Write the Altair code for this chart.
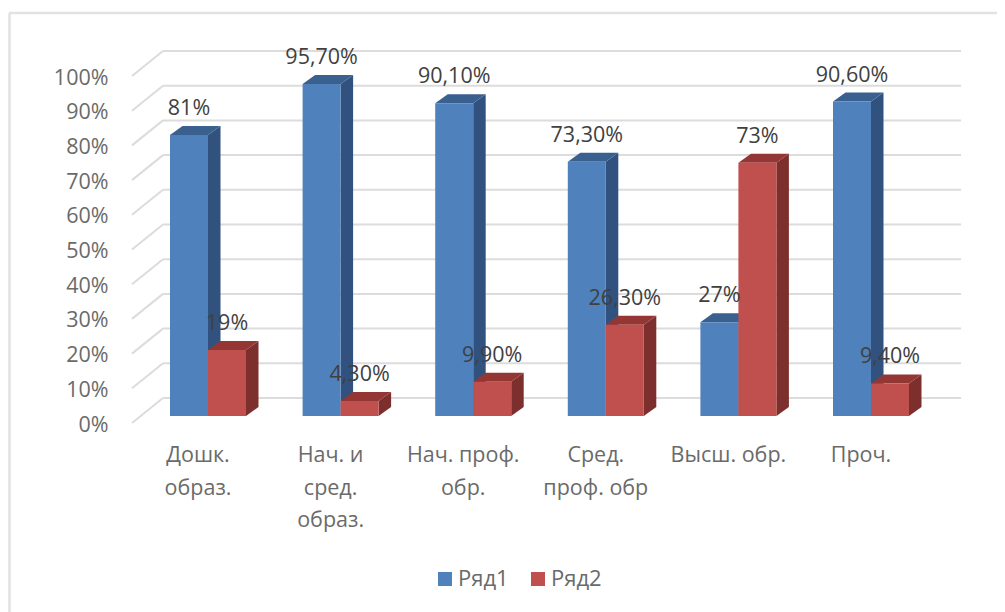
import altair as alt
import pandas as pd

categories = ["Дошк.\nобраз.", "Нач. и\nсред.\nобраз.", "Нач. проф.\nобр.",
              "Сред.\nпроф. обр", "Высш. обр.", "Проч."]
series1 = [81, 95.7, 90.1, 73.3, 27, 90.6]
series2 = [19, 4.3, 9.9, 26.3, 73, 9.4]
labels1 = ["81%", "95,70%", "90,10%", "73,30%", "27%", "90,60%"]
labels2 = ["19%", "4,30%", "9,90%", "26,30%", "73%", "9,40%"]
ticks = list(range(0, 101, 10))

FONT = "Open Sans"
W, H = 989, 604
LEFT, TOP = 8, 8
X0, STEP = 170.0, 132.6     # page x of first bar, spacing of groups
Y0, UNIT = 423.0, 3.47      # page y of 0 % on axis, px per %
BAR = 38 / STEP
BAR_DX, BAR_DY = 12.5 / STEP, 9 / UNIT
BASE = 7 / UNIT
WALL_DX, WALL_DY = 31 / STEP, 25 / UNIT
AXIS_X = (132 - X0) / STEP
RIGHT_X = (961 - X0) / STEP

xs = alt.Scale(domain=[(LEFT - X0) / STEP, (LEFT + W - X0) / STEP], nice=False, zero=False)
ys = alt.Scale(domain=[(Y0 - TOP - H) / UNIT, (Y0 - TOP) / UNIT], nice=False, zero=False)
y_axis = alt.Axis(
    values=ticks, labelExpr="datum.value + '%'", domain=False, ticks=False, grid=False,
    title=None, labelFont=FONT, labelFontSize=21.5, labelColor="#6a6a6a", labelPadding=0,
    labelOffset=2, offset=-100)
X = lambda f="x": alt.X(f"{f}:Q", scale=xs, axis=None)
Y = lambda f="y": alt.Y(f"{f}:Q", scale=ys, axis=y_axis)


def faces(values, slot):
    front, side, top = [], [], []
    for i, v in enumerate(values):
        l = i + slot * BAR
        r = l + BAR
        t = BASE + v
        front.append(dict(x=l, x2=r, y=BASE, y2=t))
        side += [dict(k=i, x=r, y=BASE, y2=t),
                 dict(k=i, x=r + BAR_DX, y=BASE + BAR_DY, y2=t + BAR_DY)]
        top += [dict(k=i, x=l, y=t, y2=t),
                dict(k=i, x=l + BAR_DX, y=t, y2=t + BAR_DY),
                dict(k=i, x=r, y=t, y2=t + BAR_DY),
                dict(k=i, x=r + BAR_DX, y=t + BAR_DY, y2=t + BAR_DY)]
    return pd.DataFrame(front), pd.DataFrame(side), pd.DataFrame(top)


def area(df, color):
    return alt.Chart(df).mark_area(color=color, orient="vertical", interpolate="linear").encode(
        x=X(), y=Y(), y2="y2:Q", detail="k:N")


GRID = dict(color="#dcdcdc", strokeWidth=2)

# outer frame (top and left edges only)
frame_top = alt.Chart(pd.DataFrame([dict(x=(9 - X0) / STEP, x2=(1005 - X0) / STEP, y=(Y0 - 13) / UNIT)])).mark_rule(
    color="#e2e2e2", strokeWidth=2.5).encode(x=X(), x2="x2:Q", y=Y())
frame_left = alt.Chart(pd.DataFrame([dict(x=(9.5 - X0) / STEP, y=(Y0 - 13) / UNIT, y2=(Y0 - 612) / UNIT)])).mark_rule(
    color="#e2e2e2", strokeWidth=2.5).encode(x=X(), y=Y(), y2="y2:Q")

# back wall gridlines
back = pd.DataFrame([dict(x=AXIS_X + WALL_DX, x2=RIGHT_X, y=t + WALL_DY) for t in ticks])
back_lines = alt.Chart(back).mark_rule(**GRID).encode(x=X(), x2="x2:Q", y=Y())

# side wall gridlines
wall = pd.DataFrame([dict(k=t, x=AXIS_X + d * WALL_DX, y=t + d * WALL_DY) for t in ticks for d in (0, 1)])
wall_lines = alt.Chart(wall).mark_line(**GRID).encode(x=X(), y=Y(), detail="k:N")

f1, s1, t1 = faces(series1, 0)
f2, s2, t2 = faces(series2, 1)

legend = alt.Legend(title=None, orient="none", direction="horizontal", legendX=426, legendY=560,
                    symbolType="square", symbolSize=196, symbolStrokeWidth=0, labelFont=FONT,
                    labelFontSize=22, labelColor="#6a6a6a", columnPadding=18, symbolOffset=0,
                    labelOffset=2)
color = alt.Color("s:N", scale=alt.Scale(domain=["Ряд1", "Ряд2"], range=["#4f81bd", "#c0504d"]), legend=legend)


def fronts(df, name):
    return alt.Chart(df.assign(s=name)).mark_bar().encode(x=X(), x2="x2:Q", y=Y(), y2="y2:Q", color=color)


def value_labels(values, texts, slot):
    df = pd.DataFrame([dict(x=i + (slot + 0.5) * BAR, y=BASE + v + BAR_DY + 17 / UNIT, t=s)
                       for i, (v, s) in enumerate(zip(values, texts))])
    return alt.Chart(df).mark_text(font=FONT, fontSize=21.5, color="#404040", baseline="middle").encode(
        x=X(), y=Y(), text="t:N")


cats = pd.DataFrame([dict(x=i + 28 / STEP, y=(Y0 - 445) / UNIT, t=c) for i, c in enumerate(categories)])
cat_text = alt.Chart(cats).mark_text(font=FONT, fontSize=21.5, color="#6a6a6a", baseline="top",
                                     lineBreak="\n", lineHeight=32.5).encode(x=X(), y=Y(), text="t:N")

chart = alt.layer(
    frame_top, frame_left, back_lines, wall_lines,
    area(s1, "#31527f"), area(t1, "#3a6090"), fronts(f1, "Ряд1"),
    area(s2, "#7d2f2d"), area(t2, "#943634"), fronts(f2, "Ряд2"),
    value_labels(series1, labels1, 0), value_labels(series2, labels2, 1), cat_text,
).properties(
    width=W, height=H, padding=0, autosize=alt.AutoSizeParams(type="none"), background="#ffffff",
).configure_view(stroke=None)

chart.save("out.html", embed_options={"renderer": "svg", "actions": False})
